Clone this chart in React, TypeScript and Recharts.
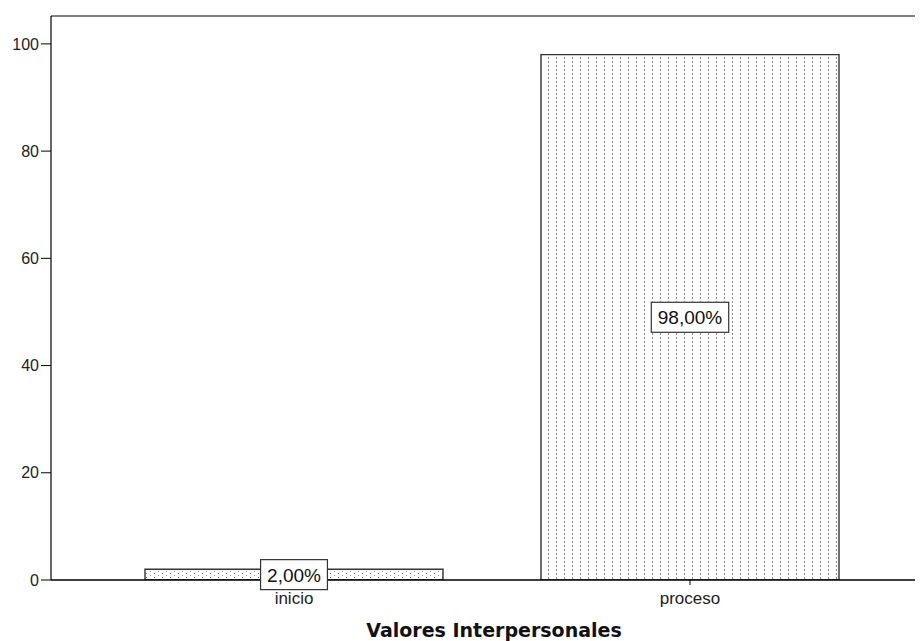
import { BarChart, Bar, XAxis, YAxis, Cell, LabelList, ReferenceLine } from "recharts";

const categories = ["inicio", "proceso"];
const percents = [2, 98];
const yTicks = [0, 20, 40, 60, 80, 100];
const title = "Valores Interpersonales";

const data = categories.map((name, i) => ({ name, value: percents[i] }));
const patternIds = ["pat-inicio", "pat-proceso"];

const FONT = '"Liberation Sans", Arial, sans-serif';

// rough Arial widths for the box around the value label
const charW = (c: string) => (c === "," ? 0.278 : c === "%" ? 0.889 : 0.556);

function BoxLabel(props: any) {
  const { x, y, width, height, value } = props;
  const text = value.toFixed(2).replace(".", ",") + "%";
  const fs = 19;
  const tw = text.split("").reduce((s: number, c: string) => s + charW(c), 0) * fs;
  const bw = tw + 13;
  const bh = 30;
  const cx = x + width / 2;
  const cy = y + height / 2;
  return (
    <g>
      <rect x={cx - bw / 2} y={cy - bh / 2} width={bw} height={bh} fill="#fff" stroke="#333" strokeWidth={1.2} />
      <text x={cx} y={cy + 7} textAnchor="middle" fontSize={fs} fontFamily={FONT} fill="#111">
        {text}
      </text>
    </g>
  );
}

export default function App() {
  return (
    <div style={{ position: "relative", width: 915, height: 633, overflow: "hidden", background: "#fff" }}>
      <BarChart
        width={1000}
        height={633}
        data={data}
        margin={{ top: 8, right: 75, bottom: 31, left: 0 }}
        barSize={298}
      >
        <defs>
          <pattern id="pat-inicio" width={8} height={4} patternUnits="userSpaceOnUse">
            <rect width={8} height={4} fill="#fff" />
            <rect x={2} y={1} width={1} height={1} fill="#777" />
            <rect x={6} y={3} width={1} height={1} fill="#999" />
          </pattern>
          <pattern id="pat-proceso" width={8} height={4} patternUnits="userSpaceOnUse">
            <rect width={8} height={4} fill="#fff" />
            <rect x={4} y={1} width={1} height={2} fill="#8a8a8a" />
          </pattern>
        </defs>
        <XAxis
          dataKey="name"
          height={30}
          padding={{ left: 45, right: 45 }}
          axisLine={{ stroke: "#000", strokeWidth: 1.2 }}
          tickLine={{ stroke: "#000" }}
          tickSize={5}
          tickMargin={7}
          tick={{ fill: "#222", fontSize: 17, fontFamily: FONT }}
        />
        <YAxis
          width={43}
          domain={[0, 105.2]}
          ticks={yTicks}
          allowDataOverflow
          axisLine={{ stroke: "#000", strokeWidth: 1.2 }}
          tickLine={{ stroke: "#000" }}
          tickSize={10}
          tickMargin={2}
          tick={{ fill: "#222", fontSize: 16, fontFamily: FONT }}
        />
        <ReferenceLine y={105.2} stroke="#7f7f7f" strokeWidth={2} />
        <Bar dataKey="value" stroke="#333" strokeWidth={1.4} isAnimationActive={false}>
          {data.map((d, i) => (
            <Cell key={d.name} fill={`url(#${patternIds[i]})`} />
          ))}
          <LabelList dataKey="value" content={BoxLabel} />
        </Bar>
        <ReferenceLine y={0} stroke="#000" strokeWidth={1.2} />
      </BarChart>
      <div
        style={{
          position: "absolute",
          left: 0,
          top: 613,
          width: 972,
          textAlign: "center",
          fontFamily: '"DejaVu Sans", sans-serif',
          fontWeight: "bold",
          fontSize: 19,
          lineHeight: "19px",
          color: "#111",
          whiteSpace: "nowrap",
        }}
      >
        {title}
      </div>
    </div>
  );
}
